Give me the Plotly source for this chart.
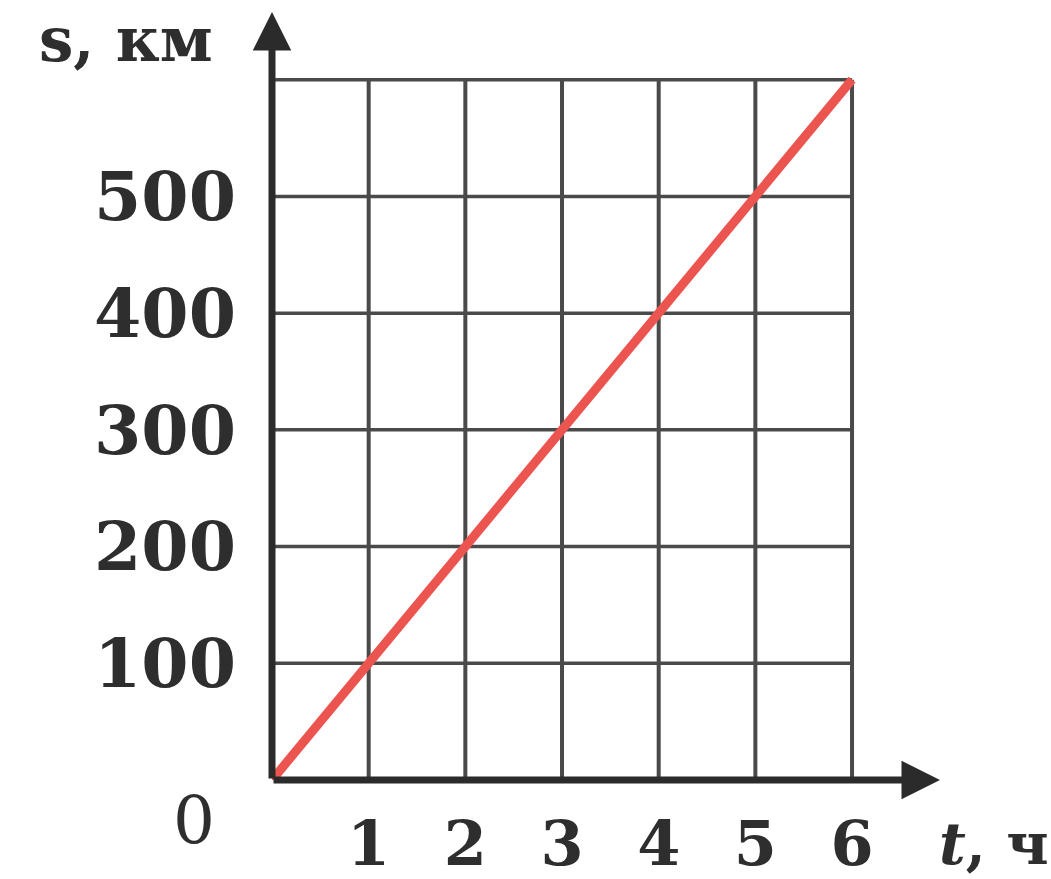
import plotly.graph_objects as go

t_hours = [0, 6]
s_km = [0, 600]
x_ticks = [1, 2, 3, 4, 5, 6]
y_ticks = [100, 200, 300, 400, 500]
x_grid = [1, 2, 3, 4, 5, 6]
y_grid = [100, 200, 300, 400, 500, 600]

X_MAX = 6.91
Y_MAX = 658
GRID_C = "#4a4a4a"
AXIS_C = "#2b2b2b"
TEXT_C = "#2e2e2e"

fig = go.Figure()
fig.add_trace(go.Scatter(x=t_hours, y=s_km, mode="lines",
                         line=dict(color="#ec5450", width=9), showlegend=False,
                         hoverinfo="skip"))

shapes = []
for gx in x_grid:
    shapes.append(dict(type="line", xref="x", yref="y", x0=gx, x1=gx, y0=0, y1=max(y_grid),
                       line=dict(color=GRID_C, width=4), layer="below"))
for gy in y_grid:
    shapes.append(dict(type="line", xref="x", yref="y", x0=0, x1=max(x_grid), y0=gy, y1=gy,
                       line=dict(color=GRID_C, width=3.5), layer="below"))

annotations = [
    dict(x=X_MAX, y=0, ax=0, ay=0, xref="x", yref="y", axref="x", ayref="y",
         showarrow=True, arrowhead=2, arrowsize=1.1, arrowwidth=7, arrowcolor=AXIS_C, text=""),
    dict(x=0, y=Y_MAX, ax=0, ay=0, xref="x", yref="y", axref="x", ayref="y",
         showarrow=True, arrowhead=2, arrowsize=1.1, arrowwidth=7, arrowcolor=AXIS_C, text=""),
    dict(text="<b>s, км</b>", xref="paper", yref="paper", x=0, y=1.0, xanchor="right",
         yanchor="middle", xshift=-57, yshift=-27, showarrow=False,
         font=dict(family="DejaVu Serif", size=61, color=TEXT_C)),
    dict(text="<b><i>t</i>, ч</b>", xref="paper", yref="y", x=1.0, y=0, xanchor="left",
         yanchor="middle", xshift=-3, yshift=-64, showarrow=False,
         font=dict(family="DejaVu Serif", size=58, color=TEXT_C)),
    dict(text="0", xref="x", yref="y", x=0, y=0, xanchor="right", yanchor="top",
         xshift=-55, yshift=0, showarrow=False,
         font=dict(family="DejaVu Serif", size=66, color=TEXT_C)),
]

fig.update_layout(
    width=1051, height=879,
    margin=dict(l=272, r=111, t=12, b=99, autoexpand=False),
    paper_bgcolor="white", plot_bgcolor="white",
    shapes=shapes, annotations=annotations,
    xaxis=dict(range=[0, X_MAX], tickvals=x_ticks, ticktext=["<b>%d</b>" % v for v in x_ticks],
               showgrid=False, zeroline=False, showline=False, ticks="",
               ticklabelstandoff=22,
               tickfont=dict(family="DejaVu Serif", size=62, color=TEXT_C)),
    yaxis=dict(range=[0, Y_MAX], tickvals=y_ticks, ticktext=["<b>%d</b>" % v for v in y_ticks],
               showgrid=False, zeroline=False, showline=False, ticks="",
               ticklabelstandoff=35,
               tickfont=dict(family="DejaVu Serif", size=68, color=TEXT_C)),
)

fig.write_html("out.html", config={"displayModeBar": False},
               post_script="document.body.style.margin='0px';")
